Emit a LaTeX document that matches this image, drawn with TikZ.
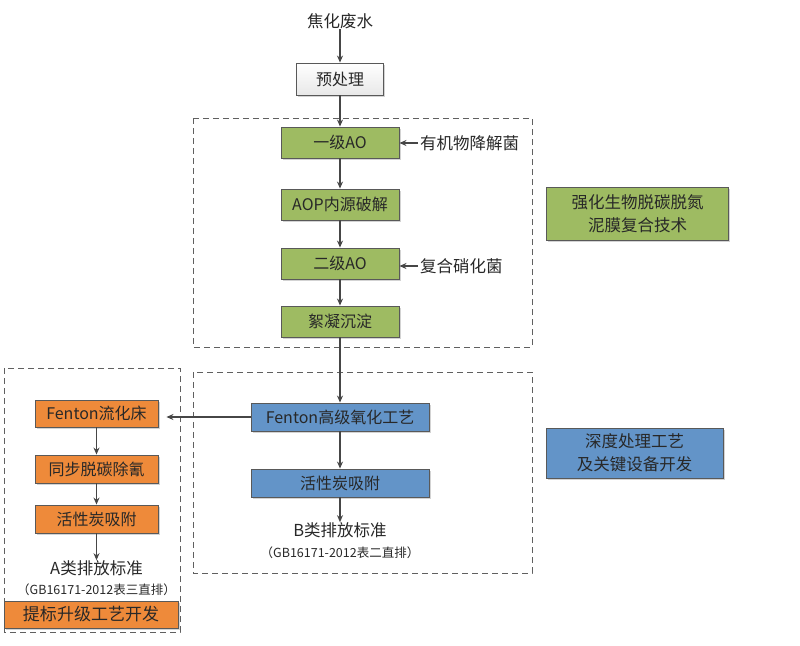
\documentclass[tikz,border=0pt]{standalone}
\usepackage{fontspec}
\setmainfont{Noto Sans CJK SC}
\usetikzlibrary{arrows.meta,shadows}
\definecolor{gfill}{RGB}{158,187,98}
\definecolor{bfill}{RGB}{99,148,200}
\definecolor{ofill}{RGB}{238,138,58}
\definecolor{ln}{RGB}{70,70,70}
\definecolor{txt}{RGB}{40,40,40}
\begin{document}
\begin{tikzpicture}[x=1pt,y=-1pt,
  base/.style={draw=ln!90,line width=0.9pt,inner sep=0pt,text=txt,font=\fontsize{16}{18}\selectfont,
    drop shadow={shadow xshift=1.5pt,shadow yshift=-1.5pt,opacity=0.35}},
  gbox/.style={base,fill=gfill},
  bbox/.style={base,fill=bfill},
  obox/.style={base,fill=ofill},
  wbox/.style={base,top color=white,bottom color=gray!18},
  lbl/.style={text=txt,font=\fontsize{16.5}{18}\selectfont,inner sep=0pt},
  small/.style={text=txt,font=\fontsize{12.5}{14}\selectfont,inner sep=0pt},
  arr/.style={draw=ln,line width=1.1pt,-{Stealth[length=7pt,width=6pt]}},
  dbox/.style={draw=gray!75!black,line width=0.9pt,dash pattern=on 6pt off 4pt}
]
\useasboundingbox (0,0) rectangle (800,645);
% dashed groups
\draw[dbox] (193,118) rectangle (532,347);
\draw[dbox] (193,372) rectangle (532,573);
\draw[dbox] (4,368) rectangle (180,632);

\node[lbl] (src) at (340,21) {焦化废水};
\node[wbox,minimum width=87pt,minimum height=32pt] (pre) at (340,79) {预处理};
\node[gbox,minimum width=118pt,minimum height=31pt] (ao1) at (340,142.5) {一级AO};
\node[gbox,minimum width=118pt,minimum height=31pt] (aop) at (340,204.5) {AOP内源破解};
\node[gbox,minimum width=118pt,minimum height=31pt] (ao2) at (340,263.5) {二级AO};
\node[gbox,minimum width=118pt,minimum height=31pt] (xn) at (340,321.5) {絮凝沉淀};
\node[lbl,anchor=west] (bac1) at (420,143) {有机物降解菌};
\node[lbl,anchor=west] (bac2) at (420,266) {复合硝化菌};
\node[gbox,minimum width=182pt,minimum height=53pt,align=center,font=\fontsize{16.5}{23}\selectfont] (t1) at (637.5,213.5) {强化生物脱碳脱氮\\泥膜复合技术};

\node[bbox,minimum width=178pt,minimum height=28pt] (fen) at (340,417) {Fenton高级氧化工艺};
\node[bbox,minimum width=178pt,minimum height=28pt] (hx) at (340,483) {活性炭吸附};
\node[lbl] (bstd) at (340,530) {B类排放标准};
\node[small] (bgb) at (340,553) {（GB16171-2012表二直排）};
\node[bbox,minimum width=177pt,minimum height=50pt,align=center,font=\fontsize{16.5}{23}\selectfont] (t2) at (634.5,453) {深度处理工艺\\及关键设备开发};

\node[obox,minimum width=123pt,minimum height=27pt] (fl) at (96.5,413.5) {Fenton流化床};
\node[obox,minimum width=123pt,minimum height=28pt] (tb) at (96.5,469) {同步脱碳除氰};
\node[obox,minimum width=123pt,minimum height=28pt] (hx2) at (96.5,519) {活性炭吸附};
\node[lbl] (astd) at (96.5,568) {A类排放标准};
\node[small] (agb) at (96.5,590) {（GB16171-2012表三直排）};
\node[obox,minimum width=174pt,minimum height=27pt,font=\fontsize{17}{18}\selectfont] (up) at (91,614.5) {提标升级工艺开发};

% connectors
\draw[arr] (src) -- (pre);
\draw[arr] (pre) -- (ao1);
\draw[arr] (ao1) -- (aop);
\draw[arr] (aop) -- (ao2);
\draw[arr] (ao2) -- (xn);
\draw[arr] (xn) -- (fen);
\draw[arr] (fen) -- (hx);
\draw[arr] (hx) -- (bstd);
\draw[arr] ([xshift=-2pt]bac1.west) -- (ao1.east |- bac1.west);
\draw[arr] ([xshift=-2pt]bac2.west) -- (ao2.east |- bac2.west);
\draw[arr,shorten >=8pt] (fen.west) -- (fl.east |- fen.west);
\draw[arr] (fl) -- (tb);
\draw[arr] (tb) -- (hx2);
\draw[arr] (hx2) -- (astd);
\end{tikzpicture}
\end{document}
